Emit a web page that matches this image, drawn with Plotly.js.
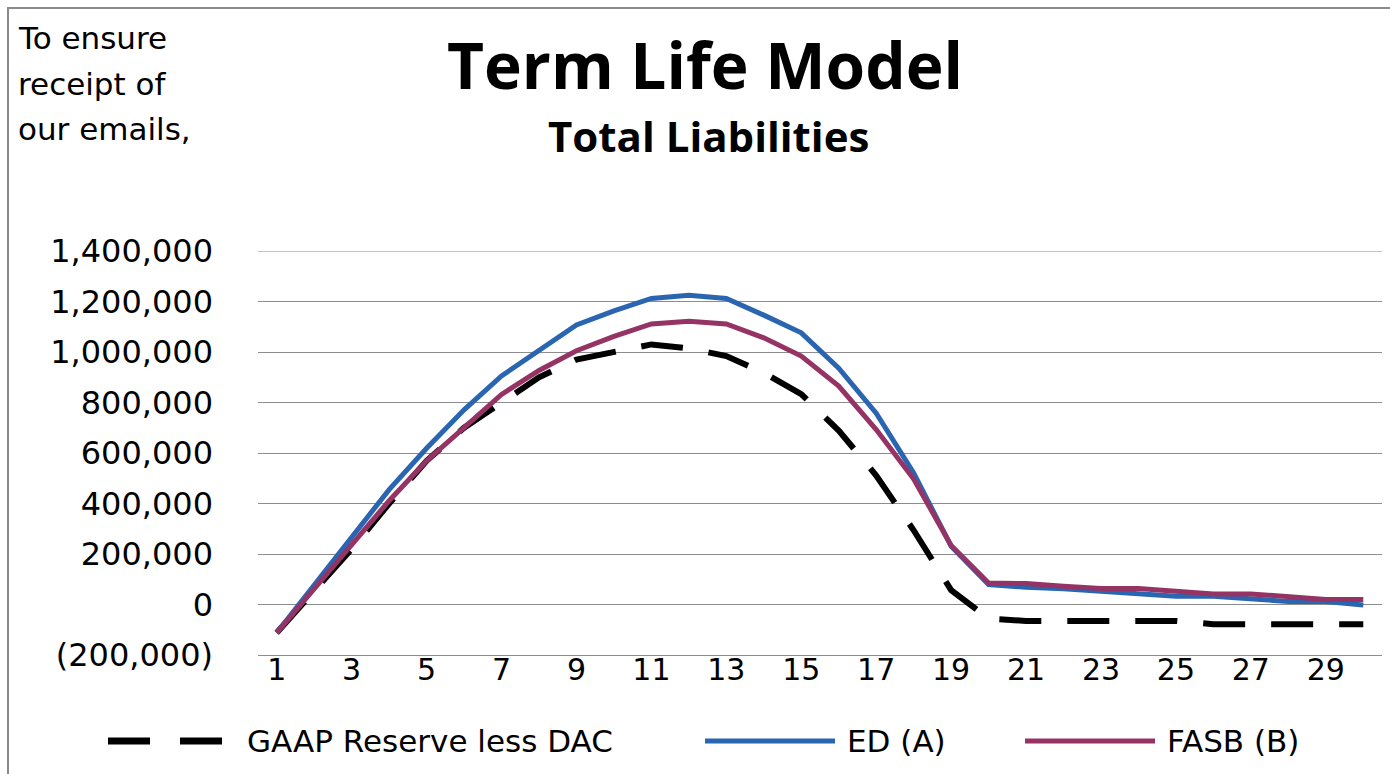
<!DOCTYPE html>
<html>
<head>
<meta charset="utf-8">
<script src="https://cdn.plot.ly/plotly-3.0.1.min.js"></script>
<style>html,body{margin:0;padding:0;background:#fff;}#chart{width:1390px;height:774px;}</style>
</head>
<body>
<div id="chart"></div>
<script>
// ---- data ----
const years = [1,2,3,4,5,6,7,8,9,10,11,12,13,14,15,16,17,18,19,20,21,22,23,24,25,26,27,28,29,30];
const gaapReserveLessDAC = [-112000, 50000, 220000, 400000, 569000, 700000, 802000, 900000, 970000, 1003000,
  1030000, 1014000, 984000, 918000, 833000, 689000, 511000, 294000, 57000, -56000,
  -65000, -65000, -65000, -65000, -65000, -78000, -78000, -78000, -78000, -78000];
const edA = [-112000, 76000, 270000, 455000, 619000, 771000, 905000, 1008000, 1107000, 1163000,
  1212000, 1225000, 1212000, 1146000, 1076000, 936000, 758000, 521000, 231000, 79000,
  68000, 62000, 53000, 42000, 33000, 33000, 22000, 12000, 12000, -2000];
const fasbB = [-112000, 62000, 240000, 411000, 569000, 700000, 832000, 927000, 1005000, 1062000,
  1111000, 1122000, 1111000, 1056000, 984000, 865000, 693000, 497000, 234000, 85000,
  83000, 72000, 63000, 63000, 52000, 42000, 42000, 30000, 20000, 20000];
const seriesNames = ['GAAP Reserve less DAC', 'ED (A)', 'FASB (B)'];
const xTickVals = [1,3,5,7,9,11,13,15,17,19,21,23,25,27,29];
const xTickText = ['1','3','5','7','9','11','13','15','17','19','21','23','25','27','29'];
const yTickVals = [-200000,0,200000,400000,600000,800000,1000000,1200000,1400000];
const yTickText = ['(200,000)','0','200,000','400,000','600,000','800,000','1,000,000','1,200,000','1,400,000'];
const titleText = 'Term Life Model';
const subtitleText = 'Total Liabilities';
const noteLines = ['To ensure', 'receipt of', 'our emails,'];

// ---- layout helpers ----
const W = 1390, H = 774, ML = 258, MR = 8, MT = 251, MB = 119;
const PW = W - ML - MR, PH = H - MT - MB;
const px = x => (x - ML) / PW;
const py = y => (H - MB - y) / PH;

const BLACK = '#000000', BLUE = '#2a65b2', PURPLE = '#953464', GRID = '#8c8c8c';
const FONT = 'DejaVu Sans';

const traces = [
  {x: years, y: gaapReserveLessDAC, name: seriesNames[0], type: 'scatter', mode: 'lines',
   line: {color: BLACK, width: 6, dash: '42px,26px'}},
  {x: years, y: edA, name: seriesNames[1], type: 'scatter', mode: 'lines',
   line: {color: BLUE, width: 5}},
  {x: years, y: fasbB, name: seriesNames[2], type: 'scatter', mode: 'lines',
   line: {color: PURPLE, width: 5}}
];

const annotations = [
  {text: '<b>' + subtitleText + '</b>', xref: 'paper', yref: 'paper', x: px(708), y: py(135),
   xanchor: 'center', yanchor: 'middle', showarrow: false, font: {family: 'Open Sans', size: 42, color: BLACK}},
];
noteLines.forEach((t, i) => annotations.push({
  text: t, xref: 'paper', yref: 'paper', x: px(16), y: py(38 + i * 45.5),
  xanchor: 'left', yanchor: 'middle', showarrow: false, font: {family: FONT, size: 31, color: BLACK}
}));
const legendX = [245, 845, 1165];
seriesNames.forEach((t, i) => annotations.push({
  text: t, xref: 'paper', yref: 'paper', x: px(legendX[i]), y: py(741),
  xanchor: 'left', yanchor: 'middle', showarrow: false, font: {family: FONT, size: 31, color: BLACK}
}));

const legLine = (x0, x1, color, width) => ({type: 'line', xref: 'paper', yref: 'paper',
  x0: px(x0), x1: px(x1), y0: py(741), y1: py(741), line: {color: color, width: width}});

const shapes = [
  {type: 'rect', xref: 'paper', yref: 'paper', x0: px(8), x1: px(1420), y0: py(8), y1: py(800),
   line: {color: '#8a8a8a', width: 2}, fillcolor: 'rgba(0,0,0,0)'},
  {type: 'line', xref: 'paper', yref: 'y', x0: 0, x1: 1, y0: yTickVals[yTickVals.length - 1],
   y1: yTickVals[yTickVals.length - 1], line: {color: GRID, width: 1}, layer: 'below'},
  legLine(108, 150, BLACK, 7),
  legLine(180, 222, BLACK, 7),
  legLine(705, 835, BLUE, 5),
  legLine(1025, 1155, PURPLE, 5)
];

const layout = {
  width: W, height: H,
  margin: {l: ML, r: MR, t: MT, b: MB, pad: 0},
  paper_bgcolor: '#ffffff', plot_bgcolor: '#ffffff',
  showlegend: false,
  title: {text: '<b>' + titleText + '</b>', font: {family: 'Open Sans', size: 64, color: BLACK},
    xref: 'container', yref: 'container', x: 705 / W, xanchor: 'center', y: 1 - 67 / H, yanchor: 'middle'},
  xaxis: {range: [0.5, 30.5], tickmode: 'array', tickvals: xTickVals, ticktext: xTickText,
    showgrid: false, zeroline: false, showline: true, linecolor: GRID, linewidth: 1,
    ticks: '', ticklabelstandoff: -12, tickfont: {family: FONT, size: 30, color: BLACK}},
  yaxis: {range: [-200000, 1400000], tickmode: 'array', tickvals: yTickVals, ticktext: yTickText,
    showgrid: true, gridcolor: GRID, gridwidth: 1, zeroline: false, showline: false,
    ticks: '', ticklabelstandoff: 44, tickfont: {family: FONT, size: 32, color: BLACK}},
  annotations: annotations,
  shapes: shapes
};

Plotly.newPlot('chart', traces, layout, {displayModeBar: false, staticPlot: true});
</script>
</body>
</html>
